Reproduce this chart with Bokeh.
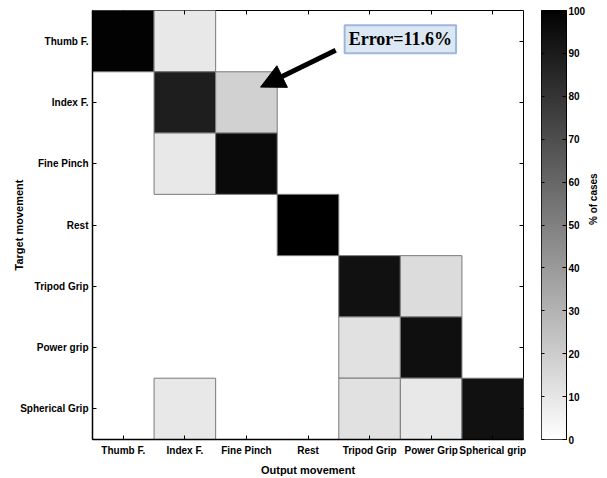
import math
from bokeh.plotting import figure
from bokeh.models import (ColumnDataSource, FactorRange, LinearAxis,
                          Range1d, ColorBar, LinearColorMapper, FixedTicker, Arrow,
                          NormalHead, Label)
from bokeh.palettes import Greys256
from bokeh.layouts import row
from bokeh.embed import file_html
from bokeh.resources import INLINE

# ---- data ----
output_labels = ["Thumb F.", "Index F.", "Fine Pinch", "Rest", "Tripod Grip", "Power Grip", "Spherical grip"]
target_labels = ["Thumb F.", "Index F.", "Fine Pinch", "Rest", "Tripod Grip", "Power grip", "Spherical Grip"]
row_thumb = [99, 9, 0, 0, 0, 0, 0]
row_index = [0, 88, 18, 0, 0, 0, 0]
row_fine = [0, 9, 96, 0, 0, 0, 0]
row_rest = [0, 0, 0, 100, 0, 0, 0]
row_tripod = [0, 0, 0, 0, 93, 14, 0]
row_power = [0, 0, 0, 0, 12, 94, 0]
row_spherical = [0, 9, 0, 0, 12, 9, 93]
matrix = [row_thumb, row_index, row_fine, row_rest, row_tripod, row_power, row_spherical]
cbar_ticks = [0, 10, 20, 30, 40, 50, 60, 70, 80, 90, 100]
error_text = "Error=11.6%"
cbar_title = "% of cases"

xs, ys, vs = [], [], []
for t, r in zip(target_labels, matrix):
    for o, v in zip(output_labels, r):
        if v > 0:
            xs.append(o); ys.append(t); vs.append(v)
src = ColumnDataSource(dict(out=xs, tgt=ys, val=vs))

palette = list(reversed(Greys256))
mapper = LinearColorMapper(palette=palette, low=0, high=100)

FONT = "Liberation Sans"

p = figure(x_range=FactorRange(factors=output_labels),
           y_range=FactorRange(factors=list(reversed(target_labels))),
           width=533, height=478, min_border_left=92, min_border_right=10,
           min_border_top=10, min_border_bottom=36,
           output_backend="svg", toolbar_location=None)
p.rect(x="out", y="tgt", width=1, height=1, source=src,
       fill_color={"field": "val", "transform": mapper},
       line_color="#7a7a7a", line_width=1)

p.xgrid.visible = False
p.ygrid.visible = False
p.outline_line_color = "black"
p.outline_line_width = 1
for ax in [p.xaxis[0], p.yaxis[0]]:
    ax.major_tick_in = 4
    ax.major_tick_out = 0
    ax.axis_line_width = 1.5
    ax.major_label_text_font = FONT
    ax.major_label_text_font_style = "bold"
    ax.major_label_text_font_size = "10px"
    ax.axis_label_text_font = FONT
    ax.axis_label_text_font_style = "bold"
    ax.axis_label_text_font_size = "11px"
    ax.major_label_text_color = "black"
    ax.axis_label_text_color = "black"
p.xaxis.axis_label = "Output movement"
p.yaxis.axis_label = "Target movement"
p.xaxis.major_label_standoff = 5
p.xaxis.axis_label_standoff = 5
p.yaxis.major_label_standoff = 4
p.yaxis.axis_label_standoff = -8

# mirrored tick marks (top / right) at category centres, no labels
x_centres = [i + 0.5 for i in range(len(output_labels))]
y_centres = [i + 0.5 for i in range(len(target_labels))]
top_ax = LinearAxis(ticker=FixedTicker(ticks=x_centres), major_tick_in=4, major_tick_out=0,
                    minor_tick_line_color=None, major_label_standoff=0,
                    major_label_overrides={t: "" for t in x_centres}, axis_line_color=None)
right_ax = LinearAxis(ticker=FixedTicker(ticks=y_centres), major_tick_in=4, major_tick_out=0,
                      minor_tick_line_color=None, major_label_standoff=0,
                      major_label_overrides={t: "" for t in y_centres}, axis_line_color=None)
p.add_layout(top_ax, "above")
p.add_layout(right_ax, "right")

# annotation
p.add_layout(Arrow(end=NormalHead(size=24, fill_color="black", line_color="black"),
                   x_start=3.95, y_start=6.35, x_end=2.73, y_end=5.75,
                   line_width=5, line_color="black"))
shadow = Label(x=5.0, y=6.53, text=error_text, text_align="center", text_baseline="middle",
               text_font="Liberation Serif", text_font_style="bold", text_font_size="18px",
               text_alpha=0, background_fill_color="#1f3a5c", padding=4,
               x_offset=3, y_offset=-4)
box = Label(x=5.0, y=6.53, text=error_text, text_align="center", text_baseline="middle",
            text_font="Liberation Serif", text_font_style="bold", text_font_size="18px",
            text_color="black", background_fill_color="#dce7f4",
            border_line_color="#9db6da", border_line_width=2, padding=4)
p.add_layout(shadow)
p.add_layout(box)

# colorbar figure
c = figure(x_range=Range1d(0, 1), y_range=Range1d(0, 100), width=74, height=478,
           min_border_left=8, min_border_right=41, min_border_top=10, min_border_bottom=35,
           output_backend="svg", toolbar_location=None)
c.xgrid.visible = False
c.ygrid.visible = False
c.xaxis.visible = False
c.yaxis.visible = False
c.outline_line_color = "black"
cb = ColorBar(color_mapper=mapper, width=25, height=433, location=(0, 0), padding=0, margin=0,
              ticker=FixedTicker(ticks=[]), major_tick_line_color=None,
              bar_line_color=None, border_line_color=None, background_fill_alpha=0,
              level="underlay")
c.add_layout(cb)
rax = LinearAxis(ticker=FixedTicker(ticks=cbar_ticks), major_tick_in=4, major_tick_out=0,
                 major_label_standoff=2,
                 major_label_text_font=FONT, major_label_text_font_style="bold",
                 major_label_text_font_size="10px",
                 axis_label_text_font=FONT, axis_label_text_font_style="bold",
                 axis_label_text_font_size="10px", axis_label_text_color="black",
                 axis_line_width=1, major_label_text_color="black")
lax = LinearAxis(ticker=FixedTicker(ticks=cbar_ticks), major_tick_in=3, major_tick_out=0,
                 major_label_overrides={t: "" for t in cbar_ticks},
                 major_label_standoff=0, axis_line_color=None)
if "axis_label_orientation" in rax.properties():
    rax.axis_label = cbar_title
    rax.axis_label_orientation = math.pi / 2
    rax.axis_label_standoff = 5
    rax.axis_label_text_align = "center"
    rax.axis_label_text_baseline = "middle"
else:
    c.add_layout(Label(x=48, y=240, x_units="screen", y_units="screen",
                       text=cbar_title, angle=math.pi / 2,
                       text_align="center", text_baseline="middle",
                       text_font=FONT, text_font_style="bold", text_font_size="10px",
                       text_color="black"))
c.add_layout(rax, "right")
c.add_layout(lax, "left")

layout = row(p, c)
open("out.html", "w").write(file_html(layout, INLINE))
